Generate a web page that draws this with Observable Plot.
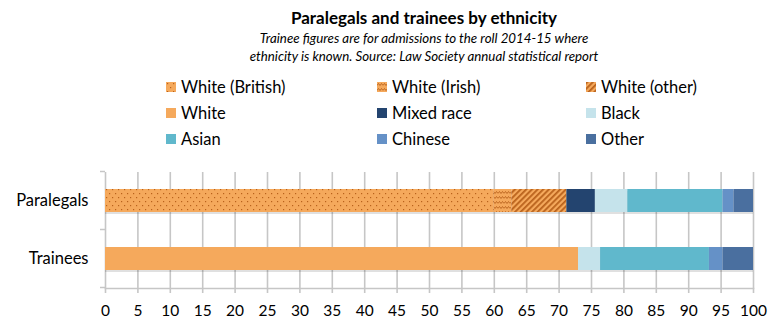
<!DOCTYPE html>
<html>
<head>
<meta charset="utf-8">
<script src="https://cdn.jsdelivr.net/npm/d3@7"></script>
<script src="https://cdn.jsdelivr.net/npm/@observablehq/plot@0.6"></script>
<style>
  body { margin: 0; background: #fff; font-family: Lato, "Open Sans", sans-serif; }
  #wrap { position: relative; width: 774px; height: 331px; overflow: hidden; }
  #title { position: absolute; left: 0; width: 848px; top: 7px; text-align: center; font-weight: bold; font-size: 17px; color: #000; }
  #sub { position: absolute; left: 0; width: 848px; top: 29px; text-align: center; font-style: italic; font-size: 13.3px; line-height: 18px; color: #000; }
  .leg { position: absolute; display: flex; align-items: center; font-size: 16.5px; color: #000; white-space: nowrap; }
  .leg svg { margin-right: 5px; }
  #chart { position: absolute; left: 0; top: 160px; }
</style>
</head>
<body>
<svg width="0" height="0" style="position:absolute">
  <defs>
    <pattern id="pDots" width="6" height="8" patternUnits="userSpaceOnUse">
      <rect width="6" height="8" fill="#F5A95C"/>
      <rect x="1" y="1" width="1.2" height="1.2" fill="#B9621C"/>
      <rect x="4" y="5" width="1.2" height="1.2" fill="#B9621C"/>
    </pattern>
    <pattern id="pWave" width="6" height="5" patternUnits="userSpaceOnUse">
      <rect width="6" height="5" fill="#F5A95C"/>
      <polyline points="0,3.5 1.5,1.5 3,3.5 4.5,1.5 6,3.5" fill="none" stroke="#B9621C" stroke-width="0.9"/>
    </pattern>
    <pattern id="pDiag" width="4" height="4" patternUnits="userSpaceOnUse" patternTransform="rotate(45)">
      <rect width="4" height="4" fill="#F5A95C"/>
      <rect x="0" y="0" width="1.8" height="4" fill="#B9621C"/>
    </pattern>
  </defs>
</svg>
<div id="wrap">
  <div id="title">Paralegals and trainees by ethnicity</div>
  <div id="sub">Trainee figures are for admissions to the roll 2014-15 where<br>ethnicity is known. Source: Law Society annual statistical report</div>
  <div id="legend"></div>
  <div id="chart"></div>
</div>
<script>
const categories = ["Paralegals", "Trainees"];
const series = ["White (British)", "White (Irish)", "White (other)", "White", "Mixed race", "Black", "Asian", "Chinese", "Other"];
const fills = ["url(#pDots)", "url(#pWave)", "url(#pDiag)", "#F5A95C", "#23446F", "#C5E3EB", "#60B8CC", "#6591C7", "#4A6F9F"];
const paralegals = [60.0, 2.7, 8.5, 0, 4.4, 5.0, 14.7, 1.7, 3.0];
const trainees = [0, 0, 0, 73.0, 0, 3.4, 16.8, 2.1, 4.7];
const xTicks = d3.range(0, 101, 5);

const valuesBy = {Paralegals: paralegals, Trainees: trainees};
const rows = [];
for (const c of categories) {
  series.forEach((s, i) => {
    rows.push({category: c, series: s, value: valuesBy[c][i], fill: fills[i]});
  });
}
const totals = categories.map(c => ({category: c, total: d3.sum(valuesBy[c])}));

// legend (3 columns)
const legend = document.getElementById("legend");
const colX = [166, 377, 586];
const rowY = [77, 103, 129];
series.forEach((s, i) => {
  const el = document.createElement("div");
  el.className = "leg";
  el.style.left = colX[i % 3] + "px";
  el.style.top = rowY[Math.floor(i / 3)] + "px";
  el.innerHTML = `<svg width="10" height="10"><rect width="10" height="10" fill="${fills[i]}"/></svg><span>${s}</span>`;
  legend.appendChild(el);
});

const gray = "#c6c6c6";
const yBoundaryTicks = (index, scales, values, dimensions) => {
  const g = document.createElementNS("http://www.w3.org/2000/svg", "g");
  const y = scales.y;
  const step = y.step ? y.step() : (y.bandwidth() / 0.4);
  const x0 = scales.x(0);
  const ys = [y(categories[0]) - (step - y.bandwidth()) / 2];
  categories.forEach(c => ys.push(y(c) + y.bandwidth() + (step - y.bandwidth()) / 2));
  for (const yy of ys) {
    const l = document.createElementNS("http://www.w3.org/2000/svg", "line");
    l.setAttribute("x1", x0 - 5); l.setAttribute("x2", x0);
    l.setAttribute("y1", yy); l.setAttribute("y2", yy);
    l.setAttribute("stroke", gray); l.setAttribute("stroke-width", 1.5);
    g.appendChild(l);
  }
  return g;
};

const plot = Plot.plot({
  width: 774,
  height: 171,
  marginTop: 12,
  marginBottom: 43,
  marginLeft: 105,
  marginRight: 21,
  style: {fontFamily: "Lato, 'Open Sans', sans-serif", fontSize: "15px", color: "#000", background: "#fff"},
  x: {domain: [0, 100], ticks: xTicks, label: null},
  y: {domain: categories, paddingInner: 0.6, paddingOuter: 0.3, label: null},
  color: {type: "identity"},
  marks: [
    Plot.gridX(xTicks, {stroke: gray, strokeOpacity: 1, strokeWidth: 1.6}),
    Plot.frame({anchor: "bottom", stroke: gray, strokeWidth: 1.6}),
    Plot.barX(totals, {x: "total", y: "category", fill: "#000", fillOpacity: 0.12, dy: 2}),
    Plot.barX(rows, {x: "value", y: "category", fill: "fill"}),
    Plot.axisX({ticks: xTicks, tickSize: 5, tickPadding: 11, stroke: gray, strokeWidth: 1.6, fill: "#000", fontSize: 15.5, label: null}),
    Plot.axisY({tickSize: 0, tickPadding: 17, fontSize: 16.5, fill: "#000", label: null}),
    yBoundaryTicks
  ]
});
document.getElementById("chart").appendChild(plot);
</script>
</body>
</html>
